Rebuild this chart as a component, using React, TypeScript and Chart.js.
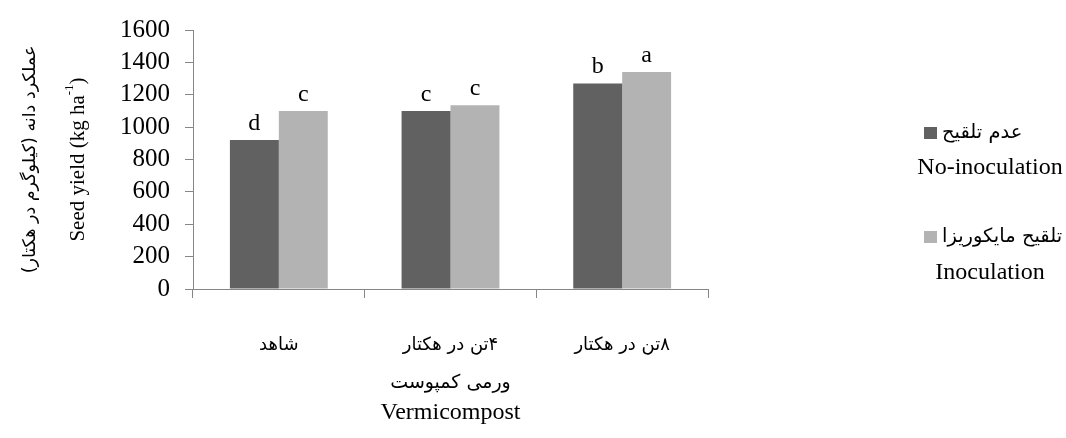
import { useEffect, useRef } from "react";
import { Chart, registerables } from "chart.js";

Chart.register(...registerables);

// Vermicompost levels (x categories)
const categories = ["شاهد", "۴تن در هکتار", "۸تن در هکتار"];
// Seed yield, kg/ha
const noInoculation = [920, 1100, 1270];
const inoculation = [1100, 1135, 1340];
// Mean-separation letters above each bar
const noInoculationLetters = ["d", "c", "b"];
const inoculationLetters = ["c", "c", "a"];
// Legend entries: Persian name, English name
const seriesFa = ["عدم تلقیح", "تلقیح مایکوریزا"];
const seriesEn = ["No-inoculation", "Inoculation"];
// Axis titles
const xTitleFa = "ورمی کمپوست";
const xTitleEn = "Vermicompost";
const yTitleFa = "عملکرد دانه (کیلوگرم در هکتار)";
const yTitleEn = "Seed yield (kg ha";
const yTitleEnSup = "-1";
const yMax = 1600;
const yStep = 200;

const DARK = "#616161";
const LIGHT = "#b3b3b3";
const AXIS = "#868686";
const SERIF = "'Liberation Serif', 'Times New Roman', serif";
const FA = "'DejaVu Sans', sans-serif";

// Persian strings are drawn with a right-to-left base direction
function fillFa(ctx: CanvasRenderingContext2D, text: string, x: number, y: number) {
  ctx.save();
  (ctx as any).direction = "rtl";
  ctx.fillText(text, x, y);
  ctx.restore();
}

const annotations = {
  id: "annotations",
  afterDraw(chart: any) {
    const ctx = chart.ctx as CanvasRenderingContext2D;
    const area = chart.chartArea;
    ctx.save();
    ctx.fillStyle = "#000";

    // letters above bars
    ctx.font = `24px ${SERIF}`;
    ctx.textAlign = "center";
    ctx.textBaseline = "alphabetic";
    [noInoculationLetters, inoculationLetters].forEach((letters, i) => {
      const meta = chart.getDatasetMeta(i);
      meta.data.forEach((el: any, j: number) => {
        ctx.fillText(letters[j], el.x, el.y - 10);
      });
    });

    // category labels
    const xs = chart.scales.x;
    ctx.font = `18px ${FA}`;
    ctx.textBaseline = "middle";
    categories.forEach((c, j) => {
      fillFa(ctx, c, xs.getPixelForValue(j), area.bottom + 56);
    });

    // x axis titles
    const cx = (area.left + area.right) / 2;
    ctx.font = `19px ${FA}`;
    fillFa(ctx, xTitleFa, cx, area.bottom + 94);
    ctx.font = `24px ${SERIF}`;
    ctx.fillText(xTitleEn, cx, area.bottom + 124);

    // y axis titles (rotated)
    const cy = (area.top + area.bottom) / 2;
    ctx.save();
    ctx.translate(30, cy);
    ctx.rotate(-Math.PI / 2);
    ctx.font = `17.5px ${FA}`;
    ctx.textAlign = "center";
    fillFa(ctx, yTitleFa, 0, 0);
    ctx.restore();

    ctx.save();
    ctx.translate(78, cy);
    ctx.rotate(-Math.PI / 2);
    ctx.font = `21px ${SERIF}`;
    const mainW = ctx.measureText(yTitleEn).width;
    ctx.font = `13px ${SERIF}`;
    const supW = ctx.measureText(yTitleEnSup).width;
    ctx.font = `21px ${SERIF}`;
    const closeW = ctx.measureText(")").width;
    const total = mainW + supW + closeW;
    let x0 = -total / 2;
    ctx.textAlign = "left";
    ctx.fillText(yTitleEn, x0, 0);
    x0 += mainW;
    ctx.font = `13px ${SERIF}`;
    ctx.fillText(yTitleEnSup, x0, -8);
    x0 += supW;
    ctx.font = `21px ${SERIF}`;
    ctx.fillText(")", x0, 0);
    ctx.restore();

    // legend
    const colors = [DARK, LIGHT];
    const rows = [133, 237];
    const enRows = [168, 273];
    colors.forEach((col, i) => {
      ctx.fillStyle = col;
      ctx.fillRect(924, rows[i] - 6, 13, 12);
      ctx.fillStyle = "#000";
      ctx.font = `19.5px ${FA}`;
      ctx.textAlign = "left";
      fillFa(ctx, seriesFa[i], 942, rows[i]);
      ctx.font = `24px ${SERIF}`;
      ctx.textAlign = "center";
      ctx.fillText(seriesEn[i], 990, enRows[i]);
    });

    ctx.restore();
  },
};

export default function App() {
  const ref = useRef<HTMLCanvasElement | null>(null);

  useEffect(() => {
    if (!ref.current) return;
    const chart = new Chart(ref.current, {
      type: "bar",
      data: {
        labels: categories,
        datasets: [
          {
            label: seriesEn[0],
            data: noInoculation,
            backgroundColor: DARK,
            categoryPercentage: 0.57,
            barPercentage: 1,
          },
          {
            label: seriesEn[1],
            data: inoculation,
            backgroundColor: LIGHT,
            categoryPercentage: 0.57,
            barPercentage: 1,
          },
        ],
      },
      options: {
        responsive: false,
        animation: false,
        layout: { padding: { left: 113, right: 358, top: 20, bottom: 129 } },
        plugins: {
          legend: { display: false },
          tooltip: { enabled: false },
          title: { display: false },
        },
        scales: {
          x: {
            ticks: { display: false },
            grid: {
              drawOnChartArea: false,
              drawTicks: true,
              tickLength: 9,
              color: AXIS,
              offset: true,
            },
            border: { color: AXIS, width: 1 },
            afterFit(s: any) {
              s.height = 20;
            },
          },
          y: {
            min: 0,
            max: yMax,
            ticks: {
              stepSize: yStep,
              autoSkip: false,
              color: "#000",
              padding: 15,
              font: { family: SERIF, size: 25 },
              callback: (v: any) => String(v),
            },
            grid: {
              drawOnChartArea: false,
              drawTicks: true,
              tickLength: 8,
              color: AXIS,
            },
            border: { color: AXIS, width: 1 },
            afterFit(s: any) {
              s.width = 80;
            },
          },
        },
      },
      plugins: [annotations],
    });
    return () => chart.destroy();
  }, []);

  return (
    <div style={{ position: "fixed", left: 0, top: 0, width: 1066, height: 438, background: "#fff" }}>
      <canvas ref={ref} width={1066} height={438} style={{ display: "block" }} />
    </div>
  );
}
